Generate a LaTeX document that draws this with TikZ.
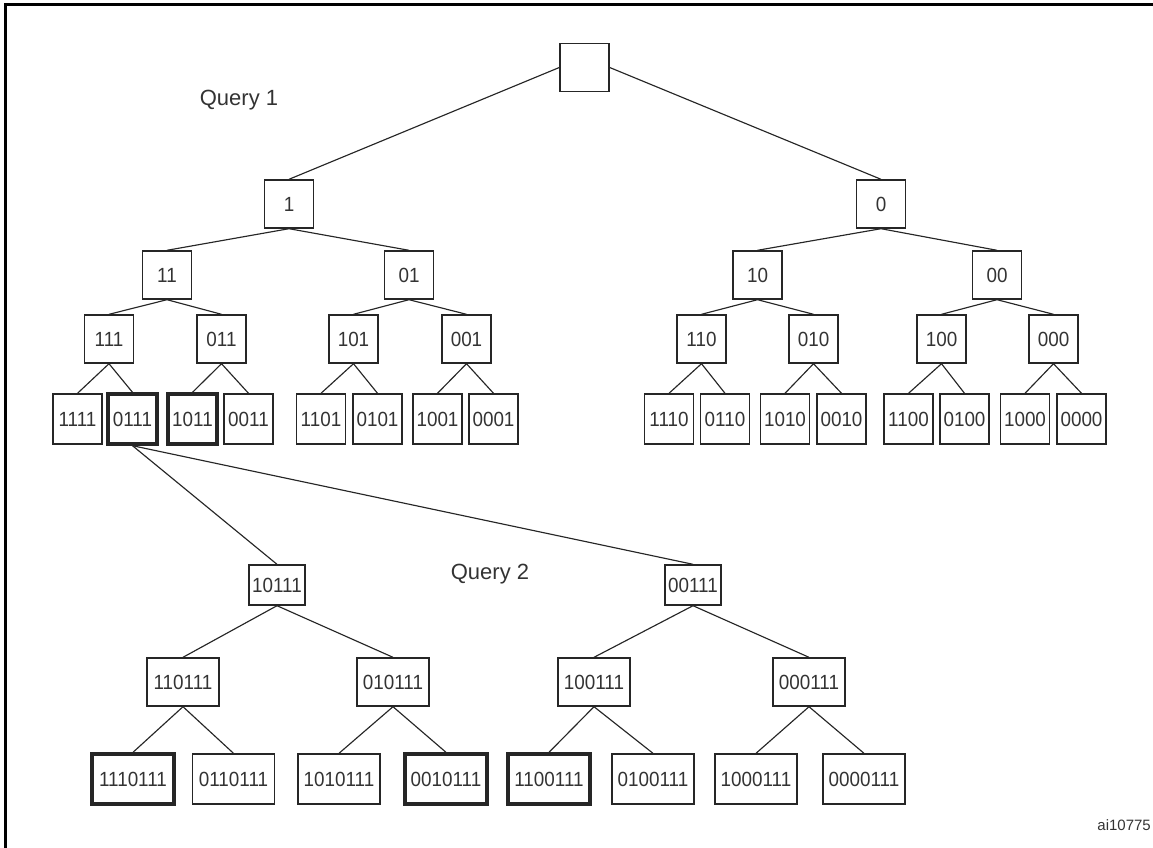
\documentclass[tikz,border=0pt]{standalone}
\usepackage{fontspec}
\setmainfont{Liberation Sans}
\newfontfamily\narrowsans[FakeStretch=0.92]{Liberation Sans}
\begin{document}
\begin{tikzpicture}[x=1pt,y=-1pt,
  box/.style={draw=black!85, line width=1.4pt, fill=white, inner sep=0pt, text=black!80,
    font=\narrowsans\fontsize{20.5}{20.5}\selectfont, minimum width=49pt, minimum height=48pt},
  hl/.style={line width=3.4pt},
  leaf/.style={minimum height=50pt},
  w5/.style={minimum width=56pt, minimum height=40pt},
  w6/.style={minimum width=72pt},
  w7/.style={minimum width=82pt},
  edge/.style={draw=black!85, line width=1.15pt},
  lbl/.style={text=black!80, inner sep=0pt, font=\fontsize{22}{22}\selectfont},
  tag/.style={text=black!80, inner sep=0pt, font=\fontsize{15}{15}\selectfont}]
\useasboundingbox (0,0) rectangle (1153,848);
% frame
\draw[line width=3pt, black] (5,848) -- (5,5) -- (1153,5);
% labels
\node[lbl] (q1) at (239,100) {Query 1};
\node[lbl] (q2) at (490,574) {Query 2};
\node[tag, anchor=east] (ai) at (1151,825) {ai10775};
% level 0
\node[box] (r) at (584.5,67.5) {};
% level 1
\node[box] (n1) at (289,204) {1};
\node[box] (n0) at (881,204) {0};
% level 2
\node[box] (n11) at (167,275) {11};
\node[box] (n01) at (409,275) {01};
\node[box] (n10) at (757.5,275) {10};
\node[box] (n00) at (997,275) {00};
% level 3
\node[box] (n111) at (109,339) {111};
\node[box] (n011) at (221.5,339) {011};
\node[box] (n101) at (353.5,339) {101};
\node[box] (n001) at (466.5,339) {001};
\node[box] (n110) at (701.5,339) {110};
\node[box] (n010) at (813.5,339) {010};
\node[box] (n100) at (941.5,339) {100};
\node[box] (n000) at (1053.5,339) {000};
% level 4
\node[box,leaf] (n1111) at (77.5,419) {1111};
\node[box,leaf,hl] (n0111) at (132.5,419) {0111};
\node[box,leaf,hl] (n1011) at (192.5,419) {1011};
\node[box,leaf] (n0011) at (248.5,419) {0011};
\node[box,leaf] (n1101) at (321,419) {1101};
\node[box,leaf] (n0101) at (377.5,419) {0101};
\node[box,leaf] (n1001) at (437.5,419) {1001};
\node[box,leaf] (n0001) at (493.5,419) {0001};
\node[box,leaf] (n1110) at (669,419) {1110};
\node[box,leaf] (n0110) at (725,419) {0110};
\node[box,leaf] (n1010) at (785,419) {1010};
\node[box,leaf] (n0010) at (841.5,419) {0010};
\node[box,leaf] (n1100) at (908.5,419) {1100};
\node[box,leaf] (n0100) at (964.5,419) {0100};
\node[box,leaf] (n1000) at (1025,419) {1000};
\node[box,leaf] (n0000) at (1081.5,419) {0000};
% lower tree
\node[box,w5] (m10111) at (277,585) {10111};
\node[box,w5] (m00111) at (693,585) {00111};
\node[box,w6] (m110111) at (183,682) {110111};
\node[box,w6] (m010111) at (393,682) {010111};
\node[box,w6] (m100111) at (594,682) {100111};
\node[box,w6] (m000111) at (809,682) {000111};
\node[box,w7,leaf,hl] (m1110111) at (133,779) {1110111};
\node[box,w7,leaf] (m0110111) at (233.5,779) {0110111};
\node[box,w7,leaf] (m1010111) at (339,779) {1010111};
\node[box,w7,leaf,hl] (m0010111) at (446,779) {0010111};
\node[box,w7,leaf,hl] (m1100111) at (549,779) {1100111};
\node[box,w7,leaf] (m0100111) at (653,779) {0100111};
\node[box,w7,leaf] (m1000111) at (756,779) {1000111};
\node[box,w7,leaf] (m0000111) at (864,779) {0000111};
% edges
\draw[edge] (r.west) -- (n1.north);
\draw[edge] (r.east) -- (n0.north);
\foreach \p/\a/\b in {n1/n11/n01, n0/n10/n00,
  n11/n111/n011, n01/n101/n001, n10/n110/n010, n00/n100/n000,
  n111/n1111/n0111, n011/n1011/n0011, n101/n1101/n0101, n001/n1001/n0001,
  n110/n1110/n0110, n010/n1010/n0010, n100/n1100/n0100, n000/n1000/n0000,
  n0111/m10111/m00111,
  m10111/m110111/m010111, m00111/m100111/m000111,
  m110111/m1110111/m0110111, m010111/m1010111/m0010111,
  m100111/m1100111/m0100111, m000111/m1000111/m0000111}
{
  \draw[edge] (\p.south) -- (\a.north);
  \draw[edge] (\p.south) -- (\b.north);
}
\end{tikzpicture}
\end{document}
